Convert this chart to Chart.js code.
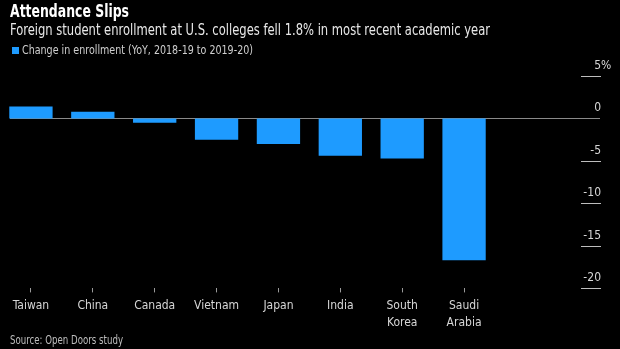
<!DOCTYPE html>
<html>
<head>
<meta charset="utf-8">
<script src="https://cdn.jsdelivr.net/npm/chart.js@4"></script>
<style>
  html, body { margin: 0; padding: 0; background: #000; }
  #wrap { width: 620px; height: 349px; position: relative; }
</style>
</head>
<body>
<div id="wrap"><canvas id="myChart" width="620" height="349"></canvas></div>
<script>
var countries = ['Taiwan', 'China', 'Canada', 'Vietnam', 'Japan', 'India', ['South', 'Korea'], ['Saudi', 'Arabia']]
var changeValues = [1.4, 0.8, -0.5, -2.5, -3.0, -4.4, -4.7, -16.7]
var yTickLabels = ['5', '0', '-5', '-10', '-15', '-20']

var fontName = '"Liberation Sans Narrow", "DejaVu Sans Condensed", sans-serif'

// zero line, right-hand ticks, header and source text
var axisPlugin = {
    id: 'axisPlugin',
    beforeDatasetsDraw: function (chart) {
        var ctx = chart.ctx
        var y = chart.scales.y
        var y0 = Math.round(y.getPixelForValue(0)) + 0.5
        ctx.save()
        ctx.strokeStyle = '#8a8a8a'
        ctx.lineWidth = 1
        ctx.beginPath()
        ctx.moveTo(10, y0)
        ctx.lineTo(600, y0)
        ctx.stroke()
        ctx.restore()
    },
    afterDraw: function (chart) {
        var ctx = chart.ctx
        var y = chart.scales.y
        ctx.save()
        ctx.font = '12px ' + fontName
        ctx.fillStyle = '#d6d6d6'
        ctx.textBaseline = 'middle'
        y.ticks.forEach(function (t, i) {
            var py = Math.round(y.getPixelForValue(t.value)) + 0.5
            var label = yTickLabels[yTickLabels.length - 1 - i]
            if (t.value !== 0) {
                ctx.strokeStyle = '#bdbdbd'
                ctx.beginPath()
                ctx.moveTo(581, py)
                ctx.lineTo(601, py)
                ctx.stroke()
            }
            ctx.textAlign = 'right'
            ctx.fillText(label, 601, py - 11)
            if (i === y.ticks.length - 1) {
                ctx.textAlign = 'left'
                ctx.fillText('%', 601, py - 11)
            }
        })

        // header (squeezed to mimic the condensed original font)
        ctx.textAlign = 'left'
        ctx.textBaseline = 'alphabetic'
        ctx.fillStyle = '#ffffff'
        ctx.font = 'bold 17px ' + fontName
        ctx.fillText('Attendance Slips', 10, 17, 119)
        ctx.fillStyle = '#e8e8e8'
        ctx.font = '15.5px ' + fontName
        ctx.fillText('Foreign student enrollment at U.S. colleges fell 1.8% in most recent academic year', 10, 35, 480)

        // legend
        var ds = chart.data.datasets[0]
        ctx.fillStyle = ds.backgroundColor
        ctx.fillRect(12, 47, 7, 7)
        ctx.fillStyle = '#cfcfcf'
        ctx.font = '13px ' + fontName
        ctx.textBaseline = 'middle'
        ctx.fillText(ds.label, 22, 51, 231)

        ctx.font = '11.5px ' + fontName
        ctx.fillStyle = '#bdbdbd'
        ctx.fillText('Source: Open Doors study', 10, 341, 113)
        ctx.restore()
    }
}

chart = new Chart('myChart', {
    type: 'bar',
    data: {
        labels: countries,
        datasets: [{
            label: 'Change in enrollment (YoY, 2018-19 to 2019-20)',
            backgroundColor: '#1e9bff',
            borderWidth: 0,
            barPercentage: 0.7,
            categoryPercentage: 1.0,
            data: changeValues
        }]
    },
    options: {
        responsive: false,
        animation: false,
        layout: { padding: { left: 0, right: 117, top: 76, bottom: 13 } },
        plugins: {
            title: { display: false },
            legend: { display: false },
            tooltip: { enabled: false }
        },
        scales: {
            x: {
                grid: { display: true, drawOnChartArea: false, offset: false, color: '#9a9a9a', tickLength: 4 },
                border: { display: false },
                ticks: { color: '#d6d6d6', font: { family: fontName, size: 12, lineHeight: 1.4 }, padding: 5, maxRotation: 0 }
            },
            y: {
                position: 'right',
                min: -20,
                max: 5,
                ticks: { stepSize: 5, display: false },
                grid: { display: false },
                border: { display: false }
            }
        }
    },
    plugins: [axisPlugin]
});
</script>
</body>
</html>
